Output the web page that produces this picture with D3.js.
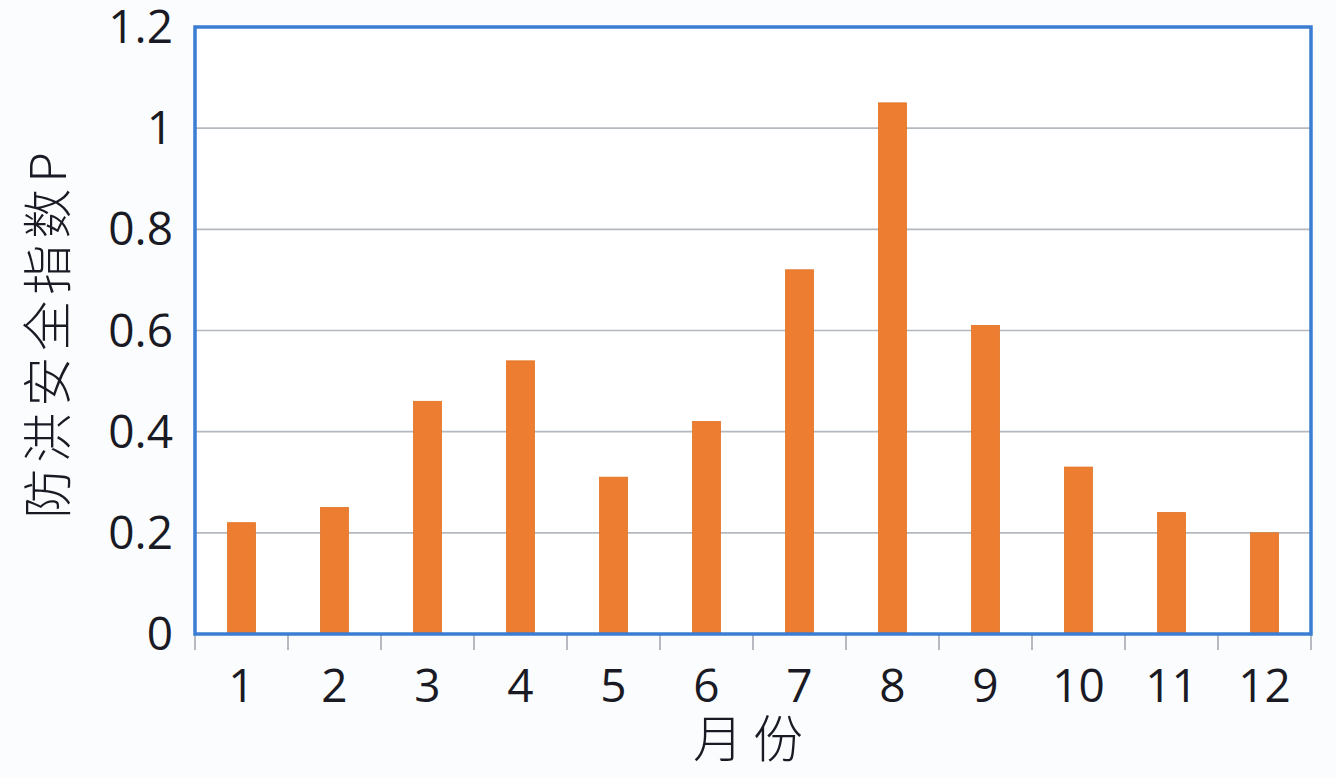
<!DOCTYPE html>
<html lang="zh">
<head>
<meta charset="UTF-8">
<title>防洪安全指数</title>
<script src="https://d3js.org/d3.v7.min.js"></script>
<style>
    html, body {
        margin: 0;
        padding: 0;
        background: #fbfcfe;
    }
    .tick-label {
        font-family: 'Open Sans', 'Noto Sans', sans-serif;
        fill: #1a1a24;
    }
    .title {
        font-family: 'Noto Sans CJK SC', sans-serif;
        font-weight: 300;
        fill: #1a1a24;
    }
</style>
</head>
<body>
<div id="chart"></div>
<script>
    // data
    const months = ["1", "2", "3", "4", "5", "6", "7", "8", "9", "10", "11", "12"];
    const values = [0.22, 0.25, 0.46, 0.54, 0.31, 0.42, 0.72, 1.05, 0.61, 0.33, 0.24, 0.20];
    const yTicks = [0, 0.2, 0.4, 0.6, 0.8, 1, 1.2];

    const w = 1336;
    const h = 778;
    const margin = { top: 27, right: 25, bottom: 144, left: 195 };
    const innerW = w - margin.left - margin.right;
    const innerH = h - margin.top - margin.bottom;

    const svg = d3.select("#chart")
        .append("svg")
        .attr("width", w)
        .attr("height", h);

    const g = svg.append("g")
        .attr("transform", `translate(${margin.left},${margin.top})`);

    const x = d3.scaleBand()
        .domain(months)
        .range([0, innerW])
        .paddingInner(0.7)
        .paddingOuter(0.35);

    const y = d3.scaleLinear()
        .domain([0, 1.2])
        .range([innerH, 0]);

    // plot background
    g.append("rect")
        .attr("width", innerW)
        .attr("height", innerH)
        .attr("fill", "#ffffff");

    // gridlines
    g.selectAll("line.grid")
        .data(yTicks.slice(1, -1))
        .enter()
        .append("line")
        .attr("class", "grid")
        .attr("x1", 0)
        .attr("x2", innerW)
        .attr("y1", d => y(d))
        .attr("y2", d => y(d))
        .attr("stroke", "#b4b8bf")
        .attr("stroke-width", 1.6);

    // bars
    g.selectAll("rect.bar")
        .data(values)
        .enter()
        .append("rect")
        .attr("class", "bar")
        .attr("x", (d, i) => x(months[i]))
        .attr("y", d => y(d))
        .attr("width", x.bandwidth())
        .attr("height", d => innerH - y(d))
        .attr("fill", "#ed7d31")
        .attr("stroke", "#e07020")
        .attr("stroke-width", 0.8);

    // x axis: ticks at category boundaries
    const step = innerW / months.length;
    const xAxis = g.append("g")
        .attr("transform", `translate(0,${innerH})`);

    xAxis.selectAll("line.tick")
        .data(d3.range(months.length + 1))
        .enter()
        .append("line")
        .attr("class", "tick")
        .attr("x1", d => d * step)
        .attr("x2", d => d * step)
        .attr("y1", 0)
        .attr("y2", 16)
        .attr("stroke", "#9a9ea6")
        .attr("stroke-width", 1.4);

    xAxis.append("line")
        .attr("x1", 0)
        .attr("x2", innerW)
        .attr("stroke", "#7fa7dc")
        .attr("stroke-width", 2);

    xAxis.selectAll("text")
        .data(months)
        .enter()
        .append("text")
        .attr("class", "tick-label")
        .attr("x", d => x(d) + x.bandwidth() / 2)
        .attr("y", 68)
        .attr("text-anchor", "middle")
        .attr("font-size", "46px")
        .text(d => d);

    // y tick labels
    g.selectAll("text.ylab")
        .data(yTicks)
        .enter()
        .append("text")
        .attr("class", "tick-label ylab")
        .attr("x", -22)
        .attr("y", d => y(d) + 16)
        .attr("text-anchor", "end")
        .attr("font-size", "46px")
        .text(d => d);

    // blue frame around plot area
    g.append("rect")
        .attr("width", innerW)
        .attr("height", innerH)
        .attr("fill", "none")
        .attr("stroke", "#3b7dd3")
        .attr("stroke-width", 3.5);

    // axis titles
    svg.append("text")
        .attr("class", "title")
        .attr("transform", `translate(66,${margin.top + innerH / 2 + 2}) rotate(-90)`)
        .attr("text-anchor", "middle")
        .attr("font-size", "50px")
        .attr("letter-spacing", "6px")
        .text("防洪安全指数P");

    svg.append("text")
        .attr("class", "title")
        .attr("x", margin.left + innerW / 2)
        .attr("y", 757)
        .attr("text-anchor", "middle")
        .attr("font-size", "50px")
        .attr("letter-spacing", "10px")
        .text("月份");
</script>
</body>
</html>
